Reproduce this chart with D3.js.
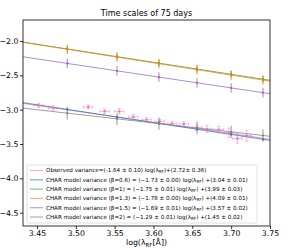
<!DOCTYPE html>
<html>
<head>
<meta charset="utf-8">
<script src="https://cdn.jsdelivr.net/npm/d3@7"></script>
<style>
  body { margin: 0; background: white; }
  text { font-family: "DejaVu Sans", sans-serif; }
</style>
</head>
<body>
<div id="chart"></div>
<script>
// observed points (log wavelength, log variance) with errors
const obsX = [3.452, 3.471, 3.516, 3.537, 3.556, 3.574, 3.591, 3.608, 3.624, 3.639, 3.656, 3.669, 3.684, 3.697, 3.708, 3.720]
const obsY = [-2.938, -2.975, -2.961, -3.025, -3.025, -3.106, -3.145, -3.170, -3.203, -3.207, -3.257, -3.280, -3.290, -3.338, -3.420, -3.377]
const obsXErr = [0.006, 0.006, 0.006, 0.006, 0.006, 0.006, 0.006, 0.006, 0.006, 0.006, 0.006, 0.006, 0.006, 0.006, 0.006, 0.006]
const obsYErr = [0.03, 0.03, 0.03, 0.03, 0.04, 0.04, 0.03, 0.03, 0.03, 0.03, 0.05, 0.05, 0.05, 0.07, 0.07, 0.08]

// model points
const modelX = [3.489, 3.553, 3.607, 3.656, 3.700, 3.741]
const modelNames = ['b06', 'b1', 'b13', 'b15', 'b2']
const modelY = {
  b06: [-2.996, -3.107, -3.200, -3.285, -3.361, -3.432],
  b1:  [-2.116, -2.228, -2.322, -2.408, -2.485, -2.557],
  b13: [-2.120, -2.234, -2.330, -2.418, -2.496, -2.569],
  b15: [-2.326, -2.435, -2.526, -2.609, -2.683, -2.752],
  b2:  [-3.051, -3.133, -3.203, -3.266, -3.323, -3.376]
}
const modelYErr = {b06: 0.02, b1: 0.05, b13: 0.07, b15: 0.07, b2: 0.09}

// fit lines from the legend (slope, intercept)
const fitNames = ['obs', 'b06', 'b1', 'b13', 'b15', 'b2']
const fitSlope = [-1.64, -1.73, -1.75, -1.78, -1.69, -1.29]
const fitIntercept = [2.72, 3.04, 3.99, 4.09, 3.57, 1.45]
const fitColors = ['#e377c2', '#1f77b4', '#2ca02c', '#ff7f0e', '#9467bd', '#7f7f7f']
const legendLabels = [
  ['Observed variance=(-1.64 ± 0.10) log(λ', 'RF', ')+(2.72± 0.36)'],
  ['CHAR model variance (β=0.6) = (−1.73 ± 0.00) log(λ', 'RF', ') +(3.04 ± 0.01)'],
  ['CHAR model variance (β=1) = (−1.75 ± 0.01) log(λ', 'RF', ') +(3.99 ± 0.03)'],
  ['CHAR model variance (β=1.3) = (−1.78 ± 0.00) log(λ', 'RF', ') +(4.09 ± 0.01)'],
  ['CHAR model variance (β=1.5) = (−1.69 ± 0.01) log(λ', 'RF', ') +(3.57 ± 0.02)'],
  ['CHAR model variance (β=2) = (−1.29 ± 0.01) log(λ', 'RF', ') +(1.45 ± 0.02)']
]
const xTicks = [3.45, 3.50, 3.55, 3.60, 3.65, 3.70, 3.75]
const yTicks = [-2.0, -2.5, -3.0, -3.5, -4.0, -4.5]
const xDomain = [3.432, 3.750]
const yDomain = [-4.694, -1.694]

const width = 293
const height = 248
const margin = ({top: 20, right: 23, bottom: 22, left: 23})

const x = d3.scaleLinear().domain(xDomain).range([margin.left, width - margin.right])
const y = d3.scaleLinear().domain(yDomain).range([height - margin.bottom, margin.top])
const color = d3.scaleOrdinal().domain(fitNames).range(fitColors)
const fmtY = v => d3.format('.1f')(v).replace('-', '−')

const svg = d3.select('#chart')
  .append('svg')
    .attr('width', width)
    .attr('height', height)

// clip to plot area
svg.append('clipPath').attr('id', 'clip')
  .append('rect')
    .attr('x', margin.left).attr('y', margin.top)
    .attr('width', width - margin.left - margin.right)
    .attr('height', height - margin.top - margin.bottom)

const plot = svg.append('g').attr('clip-path', 'url(#clip)')

// fit lines
const line = d3.line().x(d => x(d[0])).y(d => y(d[1]))
plot.selectAll('.fit')
  .data(fitNames)
  .join('path')
    .attr('class', 'fit')
    .attr('d', (d, i) => line(xDomain.map(v => [v, fitSlope[i] * v + fitIntercept[i]])))
    .attr('stroke', d => color(d))
    .attr('stroke-width', 1)
    .attr('stroke-opacity', 0.75)
    .attr('fill', 'none')

// observed points with x and y error bars
const obs = plot.selectAll('.obs')
  .data(obsX.map((v, i) => i))
  .join('g')
    .attr('class', 'obs')
    .attr('stroke', color('obs'))
    .attr('stroke-opacity', 0.6)
    .attr('stroke-width', 0.8)
obs.append('line')
    .attr('x1', i => x(obsX[i] - obsXErr[i])).attr('x2', i => x(obsX[i] + obsXErr[i]))
    .attr('y1', i => y(obsY[i])).attr('y2', i => y(obsY[i]))
obs.append('line')
    .attr('x1', i => x(obsX[i])).attr('x2', i => x(obsX[i]))
    .attr('y1', i => y(obsY[i] - obsYErr[i])).attr('y2', i => y(obsY[i] + obsYErr[i]))
// caps
obs.selectAll('.cap')
  .data(i => [[obsX[i] - obsXErr[i], 'v'], [obsX[i] + obsXErr[i], 'v'], [obsY[i] - obsYErr[i], 'h'], [obsY[i] + obsYErr[i], 'h']].map(c => [i, c]))
  .join('line')
    .attr('x1', d => d[1][1] == 'v' ? x(d[1][0]) : x(obsX[d[0]]) - 1.5)
    .attr('x2', d => d[1][1] == 'v' ? x(d[1][0]) : x(obsX[d[0]]) + 1.5)
    .attr('y1', d => d[1][1] == 'h' ? y(d[1][0]) : y(obsY[d[0]]) - 1.5)
    .attr('y2', d => d[1][1] == 'h' ? y(d[1][0]) : y(obsY[d[0]]) + 1.5)
obs.append('circle')
    .attr('cx', i => x(obsX[i])).attr('cy', i => y(obsY[i]))
    .attr('r', 1.2)
    .attr('fill', color('obs'))
    .attr('stroke', 'none')

// model points with vertical error bars
modelNames.forEach(name => {
  const g = plot.append('g')
      .attr('stroke', color(name))
      .attr('fill', color(name))
  g.selectAll('line')
    .data(modelX.map((v, i) => i))
    .join('line')
      .attr('x1', i => x(modelX[i])).attr('x2', i => x(modelX[i]))
      .attr('y1', i => y(modelY[name][i] - modelYErr[name]))
      .attr('y2', i => y(modelY[name][i] + modelYErr[name]))
      .attr('stroke-width', 0.8)
  g.selectAll('circle')
    .data(modelX.map((v, i) => i))
    .join('circle')
      .attr('cx', i => x(modelX[i])).attr('cy', i => y(modelY[name][i]))
      .attr('r', 1.1)
      .attr('stroke', 'none')
})

// axes
const xAxis = svg.append('g')
    .attr('transform', `translate(0, ${height - margin.bottom})`)
    .call(d3.axisBottom(x).tickValues(xTicks).tickFormat(d3.format('.2f')).tickSizeOuter(0).tickSize(3).tickPadding(1.5))
const yAxis = svg.append('g')
    .attr('transform', `translate(${margin.left}, 0)`)
    .call(d3.axisLeft(y).tickValues(yTicks).tickFormat(fmtY).tickSizeOuter(0).tickSize(3).tickPadding(1.5))
;[xAxis, yAxis].forEach(a => {
  a.select('.domain').remove()
  a.selectAll('text').attr('font-size', 7.8).attr('font-family', 'DejaVu Sans').attr('fill', '#000')
  a.selectAll('.tick line').attr('stroke', '#000').attr('stroke-width', 0.8)
})

// frame
svg.append('rect')
    .attr('x', margin.left).attr('y', margin.top)
    .attr('width', width - margin.left - margin.right)
    .attr('height', height - margin.top - margin.bottom)
    .attr('fill', 'none')
    .attr('stroke', '#000')
    .attr('stroke-width', 0.8)

// title and axis label
svg.append('text')
    .attr('x', (margin.left + width - margin.right) / 2)
    .attr('y', 16)
    .attr('text-anchor', 'middle')
    .attr('font-size', 8)
    .text('Time scales of 75 days')

const xl = svg.append('text')
    .attr('x', (margin.left + width - margin.right) / 2)
    .attr('y', 245)
    .attr('text-anchor', 'middle')
    .attr('font-size', 7.8)
xl.append('tspan').text('log(λ')
xl.append('tspan').attr('font-size', 5.5).attr('dy', 2).text('RF')
xl.append('tspan').attr('dy', -2).text('[Å])')

// legend
const leg = svg.append('g').attr('transform', 'translate(27, 165)')
leg.append('rect')
    .attr('width', 230).attr('height', 58)
    .attr('rx', 1.5)
    .attr('fill', 'white').attr('fill-opacity', 0.8)
    .attr('stroke', '#d8d8d8').attr('stroke-width', 0.8)
const rows = leg.selectAll('.row')
  .data(fitNames)
  .join('g')
    .attr('class', 'row')
    .attr('transform', (d, i) => `translate(0, ${5.5 + i * 9.3})`)
rows.append('line')
    .attr('x1', 3).attr('x2', 16)
    .attr('stroke', d => color(d))
    .attr('stroke-opacity', 0.6)
    .attr('stroke-width', 1.2)
const lt = rows.append('text')
    .attr('x', 19)
    .attr('dy', '0.35em')
    .attr('font-size', 5.6)
lt.append('tspan').text((d, i) => legendLabels[i][0])
lt.append('tspan').attr('font-size', 4).attr('dy', 1).text((d, i) => legendLabels[i][1])
lt.append('tspan').attr('dy', -1).text((d, i) => legendLabels[i][2])
</script>
</body>
</html>
